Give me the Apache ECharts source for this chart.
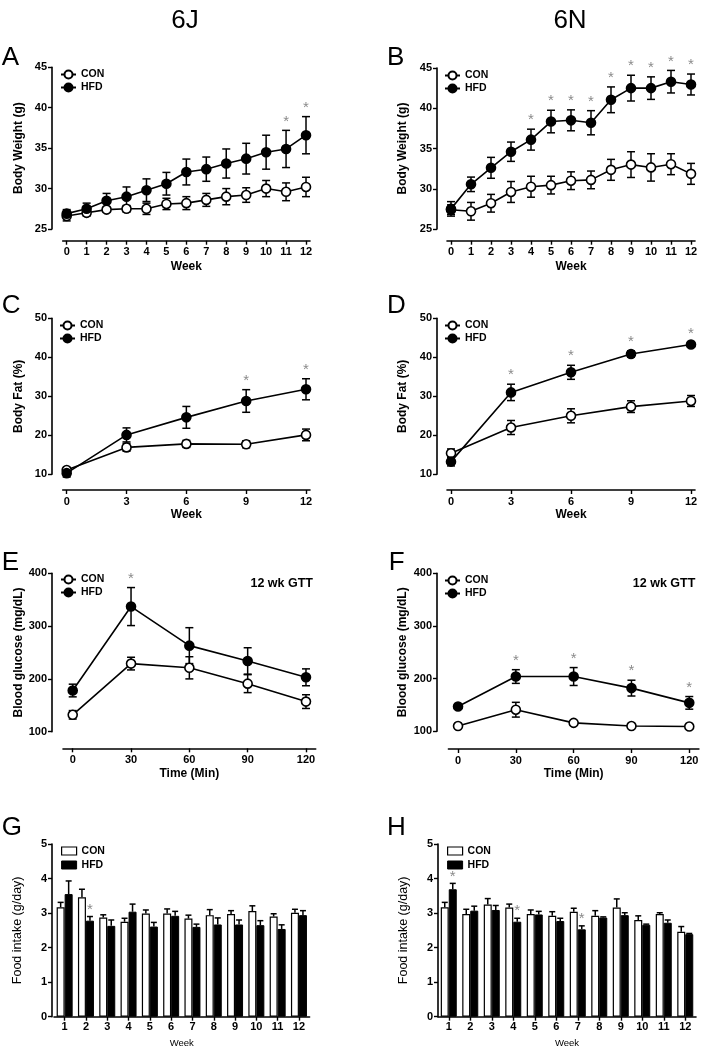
<!DOCTYPE html>
<html><head><meta charset="utf-8">
<script src="https://cdn.jsdelivr.net/npm/echarts@6/dist/echarts.min.js"></script>
<style>html,body{margin:0;padding:0;background:#fff}#c{width:704px;height:1050px}</style>
</head><body><div id="c"></div>
<script>
// ---------------- DATA ----------------
const weeks = [0,1,2,3,4,5,6,7,8,9,10,11,12];
const bwJ_con    = [26.6,27.0,27.4,27.5,27.5,28.1,28.2,28.6,29.0,29.2,30.0,29.6,30.2];
const bwJ_conSem = [0.6,0.4,0.3,0.4,0.7,0.7,0.8,0.8,1.0,0.9,1.0,1.1,1.2];
const bwJ_hfd    = [26.9,27.5,28.5,29.0,29.8,30.6,32.05,32.4,33.1,33.7,34.5,34.9,36.6];
const bwJ_hfdSem = [0.5,0.7,0.9,1.2,1.4,1.4,1.6,1.5,1.8,1.9,2.1,2.3,2.3];
const bwJ_sig = [11,12];

const bwN_con    = [27.4,27.2,28.2,29.6,30.25,30.45,31.0,31.1,32.35,33.0,32.65,33.05,31.85];
const bwN_conSem = [0.6,1.1,1.1,1.3,1.3,1.1,1.1,1.1,1.3,1.6,1.7,1.3,1.3];
const bwN_hfd    = [27.5,30.55,32.6,34.6,36.1,38.35,38.5,38.2,41.05,42.5,42.5,43.3,42.95];
const bwN_hfdSem = [0.9,0.9,1.3,1.2,1.3,1.4,1.3,1.5,1.6,1.6,1.4,1.4,1.3];
const bwN_sig = [4,5,6,7,8,9,10,11,12];

const fatWeeks = [0,3,6,9,12];
const fatJ_con    = [11.1,16.9,17.8,17.7,20.1];
const fatJ_conSem = [0.5,1.0,0.9,0.9,1.5];
const fatJ_hfd    = [10.3,20.1,24.6,28.8,31.8];
const fatJ_hfdSem = [1.0,1.8,2.8,2.9,2.7];
const fatJ_sig = [9,12];

const fatN_con    = [15.4,22.0,25.0,27.35,28.8];
const fatN_conSem = [1.1,1.8,1.8,1.5,1.4];
const fatN_hfd    = [13.25,31.0,36.15,40.85,43.3];
const fatN_hfdSem = [1.1,2.1,1.8,0.8,0.5];
const fatN_sig = [3,6,9,12];

const gttTimes = [0,30,60,90,120];
const gttJ_con    = [132,229,221,191,157];
const gttJ_conSem = [8,12,21,17,13];
const gttJ_hfd    = [178,337,263,234,203];
const gttJ_hfdSem = [12,36,34,25,16];
const gttJ_sig = [30];

const gttN_con    = [110,141,116,110,109];
const gttN_conSem = [4,14,4,3,3];
const gttN_hfd    = [147,204,204,182,154];
const gttN_hfdSem = [4,13,17,15,12];
const gttN_sig = [30,60,90,120];

const foodWeeks = ['1','2','3','4','5','6','7','8','9','10','11','12'];
const foodJ_con    = [3.17,3.46,2.87,2.75,2.99,2.99,2.84,2.94,2.97,3.06,2.90,3.01];
const foodJ_conSem = [0.14,0.23,0.08,0.10,0.10,0.13,0.10,0.16,0.10,0.15,0.08,0.10];
const foodJ_hfd    = [3.55,2.78,2.63,3.04,2.61,2.92,2.60,2.67,2.67,2.65,2.54,2.94];
const foodJ_hfdSem = [0.38,0.12,0.17,0.22,0.12,0.13,0.08,0.19,0.13,0.13,0.12,0.13];
const foodJ_sig = ['2'];

const foodN_con    = [3.17,2.97,3.25,3.16,2.97,2.92,3.04,2.92,3.16,2.80,2.97,2.46];
const foodN_conSem = [0.14,0.14,0.17,0.10,0.12,0.12,0.10,0.15,0.25,0.12,0.04,0.15];
const foodN_hfd    = [3.69,3.07,3.09,2.75,2.96,2.77,2.53,2.87,2.94,2.66,2.72,2.39];
const foodN_hfdSem = [0.17,0.13,0.13,0.10,0.09,0.08,0.10,0.02,0.07,0.02,0.08,0.02];
const foodN_sig = ['1','4','7'];

const columnTitles = ['6J','6N'];
const panelLetters = ['A','B','C','D','E','F','G','H'];
const gttLabel = '12 wk GTT';

// ---------------- HELPERS ----------------
const FONT = "'Liberation Sans', Arial, Helvetica, sans-serif";
const chart = echarts.init(document.getElementById('c'));

const grids = [
  {left:62.7, top:67.3, width:247.3, height:161.7},
  {left:447,  top:68,   width:248,   height:161},
  {left:62.7, top:318.3,width:247.3, height:156},
  {left:447,  top:318.3,width:248,   height:156},
  {left:63,   top:573.3,width:252.7, height:158.4},
  {left:448.4,top:573.3,width:250.5, height:158},
  {left:54,   top:844,  width:255.6, height:172.7},
  {left:438,  top:844,  width:258,   height:172.7}
].map(g => Object.assign({outerBoundsMode:'none', containLabel:false}, g));

const lbl = {fontFamily:FONT, fontWeight:'bold', fontSize:11, color:'#000'};
const axLine = {show:true, onZero:false, lineStyle:{color:'#000', width:1.6}};

function xVal(gi, min, max, ticks, name, offset, nameGap) {
  return {gridIndex:gi, type:'value', min, max, offset, name, nameLocation:'middle', nameGap,
    nameTextStyle:{fontFamily:FONT, fontWeight:'bold', fontSize:12, color:'#000'},
    axisLine:axLine,
    axisTick:{show:true, customValues:ticks, length:4, lineStyle:{color:'#000', width:1.4}},
    axisLabel:Object.assign({customValues:ticks, margin:6}, lbl),
    splitLine:{show:false}};
}
function xCat(gi) {
  return {gridIndex:gi, type:'category', data:foodWeeks, name:'Week', nameLocation:'middle', nameGap:22,
    nameTextStyle:{fontFamily:FONT, fontSize:9.5, color:'#000'},
    axisLine:axLine,
    axisTick:{show:true, alignWithLabel:true, length:4, lineStyle:{color:'#000', width:1.4}},
    axisLabel:Object.assign({margin:5, interval:0}, lbl),
    splitLine:{show:false}};
}
function yVal(gi, min, max, interval, name, offset, nameGap, nameStyle) {
  return {gridIndex:gi, type:'value', min, max, interval, offset, name, nameLocation:'middle', nameGap,
    nameTextStyle:Object.assign({fontFamily:FONT, fontWeight:'bold', fontSize:12, color:'#000'}, nameStyle||{}),
    axisLine:axLine,
    axisTick:{show:true, length:4, lineStyle:{color:'#000', width:1.4}},
    axisLabel:Object.assign({margin:5}, lbl),
    splitLine:{show:false}};
}

function zip(x, y) { return x.map((v,i)=>[v, y[i]]); }
function errData(x, m, s) { return x.map((v,i)=>[v, m[i], s[i]]); }

function makeErr(cap, both, shift) {
  return function (params, api) {
    const x = api.value(0), m = api.value(1), s = api.value(2);
    const top = api.coord([x, m + s]);
    const bot = api.coord([x, both ? m - s : m]);
    const cx = top[0] + shift;
    const st = {stroke:'#000', lineWidth:1.5};
    const ch = [
      {type:'line', shape:{x1:cx, y1:top[1], x2:cx, y2:bot[1]}, style:st},
      {type:'line', shape:{x1:cx-cap, y1:top[1], x2:cx+cap, y2:top[1]}, style:st}
    ];
    if (both) ch.push({type:'line', shape:{x1:cx-cap, y1:bot[1], x2:cx+cap, y2:bot[1]}, style:st});
    return {type:'group', children:ch};
  };
}
function makeStar(lift, shift) {
  return function (params, api) {
    const p = api.coord([api.value(0), api.value(1)]);
    return {type:'text', x:p[0] + shift, y:p[1] - lift,
      style:{text:'*', fill:'#8a8a8a', font:'15px ' + FONT, align:'center', verticalAlign:'middle'}};
  };
}

const series = [];
function linePanel(gi, x, con, conSem, hfd, hfdSem, sig) {
  const base = {xAxisIndex:gi, yAxisIndex:gi};
  series.push(Object.assign({type:'custom', name:'errCON'+gi, z:1, renderItem:makeErr(4, true, 0),
    data:errData(x, con, conSem)}, base));
  series.push(Object.assign({type:'custom', name:'errHFD'+gi, z:1, renderItem:makeErr(4, true, 0),
    data:errData(x, hfd, hfdSem)}, base));
  series.push(Object.assign({type:'line', name:'CON', z:3, symbol:'circle', symbolSize:9,
    lineStyle:{color:'#000', width:1.6}, itemStyle:{color:'#fff', borderColor:'#000', borderWidth:1.6},
    data:zip(x, con)}, base));
  series.push(Object.assign({type:'line', name:'HFD', z:3, symbol:'circle', symbolSize:9,
    lineStyle:{color:'#000', width:1.6}, itemStyle:{color:'#000', borderColor:'#000', borderWidth:1.6},
    data:zip(x, hfd)}, base));
  series.push(Object.assign({type:'custom', name:'sig'+gi, z:4, renderItem:makeStar(9, 0),
    data:sig.map(w => { const i = x.indexOf(w); return [w, hfd[i] + hfdSem[i]]; })}, base));
}
function barPanel(gi, con, conSem, hfd, hfdSem, sig) {
  const base = {xAxisIndex:gi, yAxisIndex:gi};
  const idx = foodWeeks.map((_, i) => i);
  series.push(Object.assign({type:'bar', name:'CON', barWidth:8, barGap:'0%', z:2,
    itemStyle:{color:'#fff', borderColor:'#000', borderWidth:1.2}, data:con}, base));
  series.push(Object.assign({type:'bar', name:'HFD', barWidth:8, barGap:'0%', z:2,
    itemStyle:{color:'#000', borderColor:'#000', borderWidth:1}, data:hfd}, base));
  series.push(Object.assign({type:'custom', name:'errbCON'+gi, z:3, renderItem:makeErr(3, false, -4),
    data:errData(idx, con, conSem)}, base));
  series.push(Object.assign({type:'custom', name:'errbHFD'+gi, z:3, renderItem:makeErr(3, false, 4),
    data:errData(idx, hfd, hfdSem)}, base));
  series.push(Object.assign({type:'custom', name:'sigb'+gi, z:4, renderItem:makeStar(7, 4),
    data:sig.map(w => { const i = foodWeeks.indexOf(w); return [i, hfd[i] + hfdSem[i]]; })}, base));
}

linePanel(0, weeks, bwJ_con, bwJ_conSem, bwJ_hfd, bwJ_hfdSem, bwJ_sig);
linePanel(1, weeks, bwN_con, bwN_conSem, bwN_hfd, bwN_hfdSem, bwN_sig);
linePanel(2, fatWeeks, fatJ_con, fatJ_conSem, fatJ_hfd, fatJ_hfdSem, fatJ_sig);
linePanel(3, fatWeeks, fatN_con, fatN_conSem, fatN_hfd, fatN_hfdSem, fatN_sig);
linePanel(4, gttTimes, gttJ_con, gttJ_conSem, gttJ_hfd, gttJ_hfdSem, gttJ_sig);
linePanel(5, gttTimes, gttN_con, gttN_conSem, gttN_hfd, gttN_hfdSem, gttN_sig);
barPanel(6, foodJ_con, foodJ_conSem, foodJ_hfd, foodJ_hfdSem, foodJ_sig);
barPanel(7, foodN_con, foodN_conSem, foodN_hfd, foodN_hfdSem, foodN_sig);

const xAxis = [
  xVal(0, -0.2, 12.2, weeks, 'Week', 11.7, 20),
  xVal(1, -0.2, 12.2, weeks, 'Week', 11.7, 20),
  xVal(2, -0.2, 12.2, fatWeeks, 'Week', 15.7, 19),
  xVal(3, -0.2, 12.2, fatWeeks, 'Week', 15.7, 19),
  xVal(4, -5, 125, gttTimes, 'Time (Min)', 16.6, 19.5),
  xVal(5, -5, 125, gttTimes, 'Time (Min)', 17.7, 19),
  xCat(6), xCat(7)
];
const yAxis = [
  yVal(0, 25, 45, 5, 'Body Weight (g)', 10.7, 27),
  yVal(1, 25, 45, 5, 'Body Weight (g)', 10, 28),
  yVal(2, 10, 50, 10, 'Body Fat (%)', 10.7, 27),
  yVal(3, 10, 50, 10, 'Body Fat (%)', 10, 28),
  yVal(4, 100, 400, 100, 'Blood glucose (mg/dL)', 11, 27),
  yVal(5, 100, 400, 100, 'Blood glucose (mg/dL)', 11.4, 28),
  yVal(6, 0, 5, 1, 'Food intake (g/day)', 2, 28, {fontWeight:'normal', fontSize:12.5}),
  yVal(7, 0, 5, 1, 'Food intake (g/day)', 0, 28, {fontWeight:'normal', fontSize:12.5})
];

const legText = {fontFamily:FONT, fontWeight:'bold', fontSize:10.5, color:'#000', lineHeight:11};
function lineLegend(left, top) {
  return {orient:'vertical', left, top, padding:0, itemGap:2, itemWidth:15, itemHeight:10,
    selectedMode:false, textStyle:legText, data:['CON','HFD']};
}
function barLegend(left, top) {
  return {orient:'vertical', left, top, padding:0, itemGap:3, itemWidth:15, itemHeight:8,
    selectedMode:false, textStyle:legText,
    data:[{name:'CON', icon:'rect', itemStyle:{color:'#fff', borderColor:'#000', borderWidth:1.2}},
          {name:'HFD', icon:'rect', itemStyle:{color:'#000', borderColor:'#000', borderWidth:1}}]};
}
const legend = [
  lineLegend(60, 69), lineLegend(444, 70),
  lineLegend(59, 320), lineLegend(444, 320),
  lineLegend(60, 574), lineLegend(444, 575),
  barLegend(61, 845.5), barLegend(447, 845.5)
];

const letterPos = [[1.7,57.4],[387,57.4],[1.7,306],[387,306],[1.7,562.4],[388.7,562.4],[1.7,827.4],[387,827.4]];
const graphic = [];
panelLetters.forEach((L, i) => graphic.push({type:'text', x:letterPos[i][0], y:letterPos[i][1], silent:true,
  style:{text:L, font:'26px ' + FONT, fill:'#000', align:'left', verticalAlign:'middle'}}));
[[185,20.8],[570,20.8]].forEach((p, i) => graphic.push({type:'text', x:p[0], y:p[1], silent:true,
  style:{text:columnTitles[i], font:'26px ' + FONT, fill:'#000', align:'center', verticalAlign:'middle'}}));
[[313,583.3],[695.3,583.3]].forEach(p => graphic.push({type:'text', x:p[0], y:p[1], silent:true,
  style:{text:gttLabel, font:'bold 12.5px ' + FONT, fill:'#000', align:'right', verticalAlign:'middle'}}));

chart.setOption({
  animation:false,
  backgroundColor:'#fff',
  textStyle:{fontFamily:FONT},
  grid:grids, xAxis, yAxis, legend, series, graphic
});
</script></body></html>
